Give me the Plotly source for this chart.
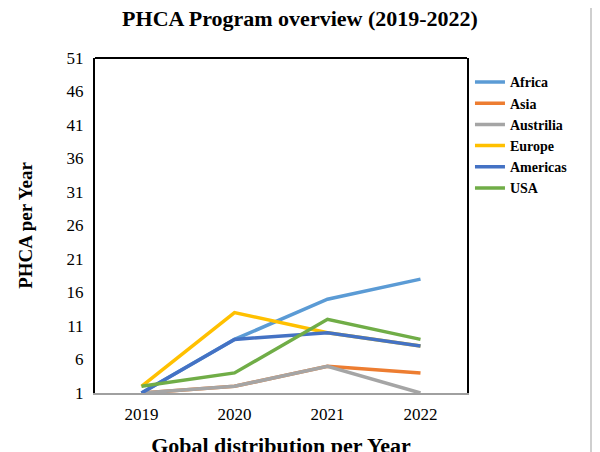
import plotly.graph_objects as go

years = ["2019", "2020", "2021", "2022"]

africa = [1, 9, 15, 18]
asia = [1, 2, 5, 4]
austrilia = [1, 2, 5, 1]
europe = [2, 13, 10, 8]
americas = [1, 9, 10, 8]
usa = [2, 4, 12, 9]

series = [
    ("Africa", africa, "#5B9BD5"),
    ("Asia", asia, "#ED7D31"),
    ("Austrilia", austrilia, "#A5A5A5"),
    ("Europe", europe, "#FFC000"),
    ("Americas", americas, "#4472C4"),
    ("USA", usa, "#70AD47"),
]

serif = "Liberation Serif, Times New Roman, serif"

fig = go.Figure()
for name, vals, col in series:
    fig.add_trace(go.Scatter(x=years, y=vals, name="<b>" + name + "</b>", mode="lines",
                             line=dict(color=col, width=3.5)))

# page has an 8px body margin, so everything is nudged up/left by 8
fig.update_layout(
    width=600, height=452,
    margin=dict(l=87, r=141, t=50, b=67, autoexpand=False),
    paper_bgcolor="white", plot_bgcolor="white",
    font=dict(family=serif, color="black", size=17),
    title=dict(text="<b>PHCA Program overview (2019-2022)</b>", x=(300 - 8) / 600, xanchor="center",
               y=0.978, yanchor="middle", font=dict(size=22)),
    legend=dict(x=1.008, y=0.975, xanchor="left", yanchor="top",
                font=dict(size=14), tracegroupgap=0, itemwidth=30),
    showlegend=True,
)
fig.update_xaxes(type="category", range=[-0.5, 3.5], showgrid=False, automargin=False,
                 showline=True, linecolor="#A0A0A0", linewidth=2,
                 ticks="", ticklabelstandoff=5,
                 title=dict(text="<b>Gobal distribution per Year</b>", font=dict(size=22), standoff=14))
fig.update_yaxes(range=[1, 51], tick0=1, dtick=5, showgrid=False, zeroline=False, automargin=False,
                 showline=True, linecolor="black", linewidth=2, mirror=True,
                 ticks="", ticklabelstandoff=6,
                 title=dict(text="<b>PHCA per Year</b>", font=dict(size=19), standoff=29))
# top edge of the frame
fig.add_shape(type="line", xref="paper", yref="paper", x0=0, x1=1, y0=1, y1=1,
              line=dict(color="black", width=2))
# light outer border on the right side of the chart
fig.add_shape(type="line", xref="paper", yref="paper",
              x0=496/372, x1=496/372, y0=-80/335, y1=392/335,
              line=dict(color="#BFBFBF", width=1.5))

fig.write_html("out.html")
